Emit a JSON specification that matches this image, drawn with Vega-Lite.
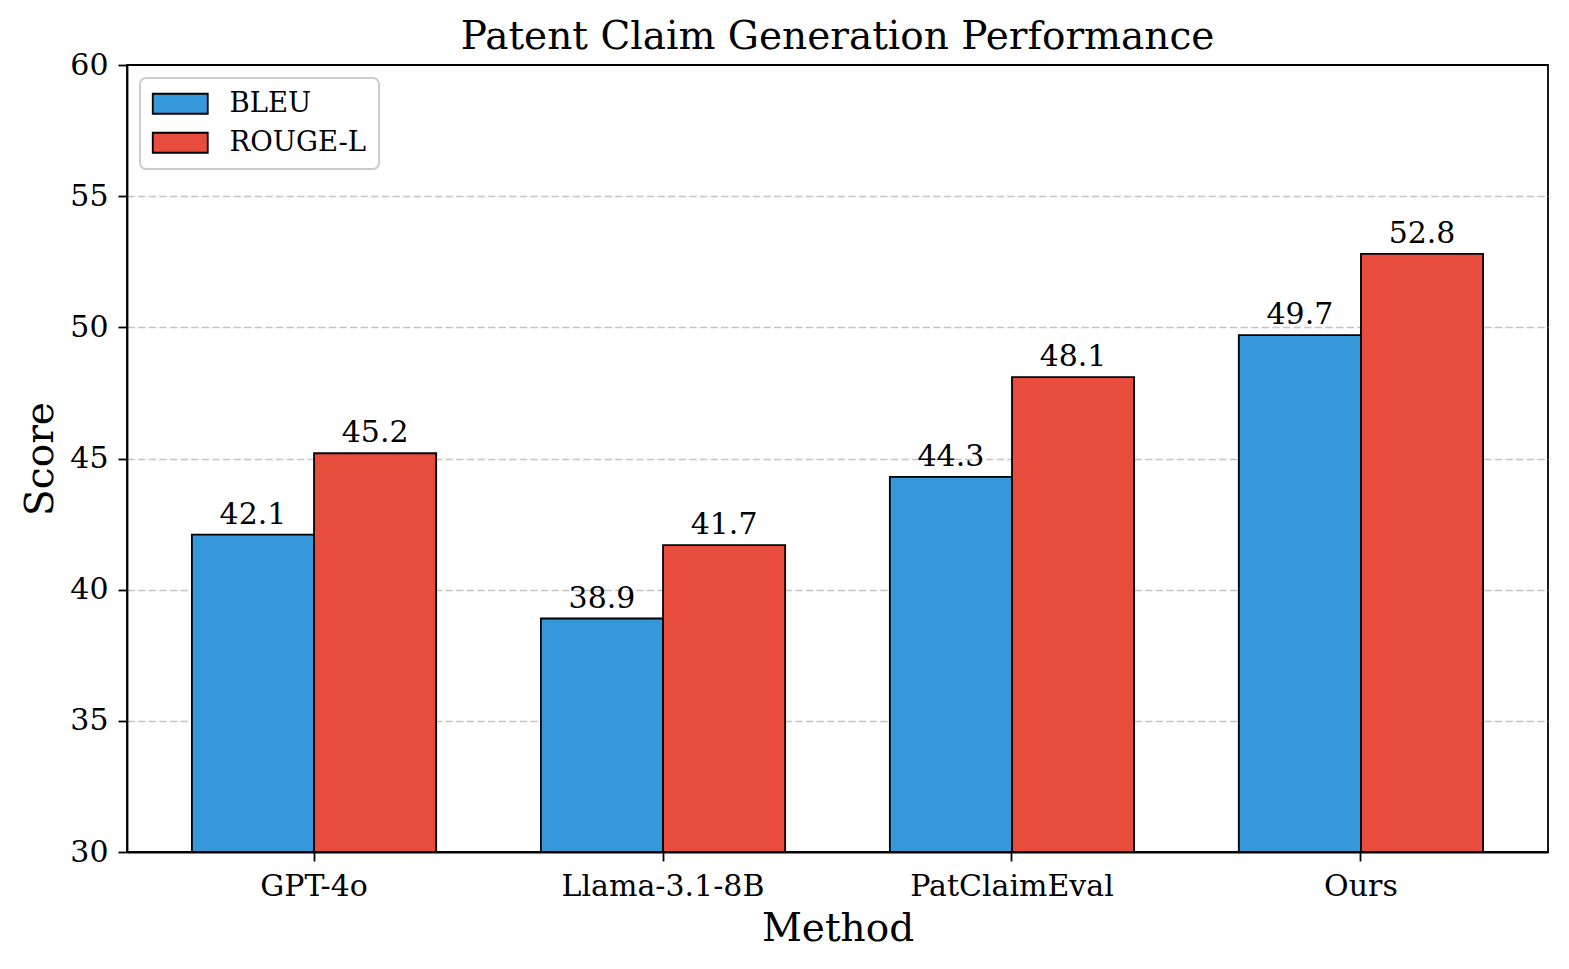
{
  "$schema": "https://vega.github.io/schema/vega-lite/v6.json",
  "width": 1421,
  "height": 787,
  "autosize": {"type": "none"},
  "padding": {"left": 127, "top": 65, "right": 21, "bottom": 117},
  "background": "white",
  "title": {"text": "Patent Claim Generation Performance", "font": "DejaVu Serif", "fontSize": 39, "fontWeight": "normal", "color": "black", "offset": -7, "anchor": "middle"},
  "config": {
    "view": {"stroke": "black", "strokeWidth": 1.8},
    "font": "DejaVu Serif"
  },
  "data": {
    "values": [
      {"method": "GPT-4o", "metric": "BLEU", "score": 42.1},
      {"method": "GPT-4o", "metric": "ROUGE-L", "score": 45.2},
      {"method": "Llama-3.1-8B", "metric": "BLEU", "score": 38.9},
      {"method": "Llama-3.1-8B", "metric": "ROUGE-L", "score": 41.7},
      {"method": "PatClaimEval", "metric": "BLEU", "score": 44.3},
      {"method": "PatClaimEval", "metric": "ROUGE-L", "score": 48.1},
      {"method": "Ours", "metric": "BLEU", "score": 49.7},
      {"method": "Ours", "metric": "ROUGE-L", "score": 52.8}
    ]
  },
  "encoding": {
    "x": {
      "field": "method", "type": "nominal", "sort": null, "title": "Method",
      "scale": {"paddingInner": 0.3, "paddingOuter": 0.186},
      "axis": {"labelAngle": 0, "labelLimit": 0, "labelFont": "DejaVu Serif", "labelFontSize": 30, "labelColor": "black", "titleFont": "DejaVu Serif", "titleFontSize": 39, "titleFontWeight": "normal", "titleColor": "black", "titlePadding": 8, "tickColor": "black", "tickSize": 9, "tickWidth": 1.8, "labelPadding": 10, "domainColor": "black", "domainWidth": 1.8, "grid": false}
    },
    "xOffset": {"field": "metric", "type": "nominal", "scale": {"paddingInner": 0, "paddingOuter": 0}},
    "y": {
      "field": "score", "type": "quantitative", "title": "Score",
      "scale": {"domain": [30, 60], "nice": false, "zero": false},
      "axis": {"values": [30, 35, 40, 45, 50, 55, 60], "labelFont": "DejaVu Serif", "labelFontSize": 30, "labelColor": "black", "titleFont": "DejaVu Serif", "titleFontSize": 39, "titleFontWeight": "normal", "titleColor": "black", "titlePadding": 9, "tickColor": "black", "tickSize": 9, "tickWidth": 1.8, "labelPadding": 10, "domainColor": "black", "domainWidth": 1.8, "grid": true,
        "gridColor": {"condition": {"test": "datum.value == 60 || datum.value == 30", "value": "transparent"}, "value": "#c4c4c4"},
        "gridDash": [7.4, 3.2], "gridWidth": 1.5, "gridOpacity": 1}
    }
  },
  "layer": [
    {
      "mark": {"type": "bar", "stroke": "black", "strokeWidth": 1.8},
      "encoding": {
        "y2": {"datum": 30},
        "color": {
          "field": "metric", "type": "nominal", "title": null,
          "scale": {"domain": ["BLEU", "ROUGE-L"], "range": ["#3498db", "#e74c3c"]},
          "legend": {"orient": "top-left", "offset": 13, "padding": 12, "strokeColor": "#cccccc", "cornerRadius": 6, "fillColor": "white", "symbolType": "M-2.75,-1L2.75,-1L2.75,1L-2.75,1Z", "symbolSize": 400, "symbolOffset": 14.5, "symbolStrokeColor": "black", "symbolStrokeWidth": 1.8, "symbolOpacity": 1, "labelFont": "DejaVu Serif", "labelFontSize": 27.5, "labelColor": "black", "labelOffset": 35.5, "rowPadding": 10,
            "encode": {"legend": {"update": {"strokeWidth": {"value": 2}}}}}
        }
      }
    },
    {
      "mark": {"type": "text", "baseline": "alphabetic", "dy": -11, "font": "DejaVu Serif", "fontSize": 30, "color": "black"},
      "encoding": {"text": {"field": "score", "type": "quantitative", "format": ".1f"}}
    }
  ]
}
